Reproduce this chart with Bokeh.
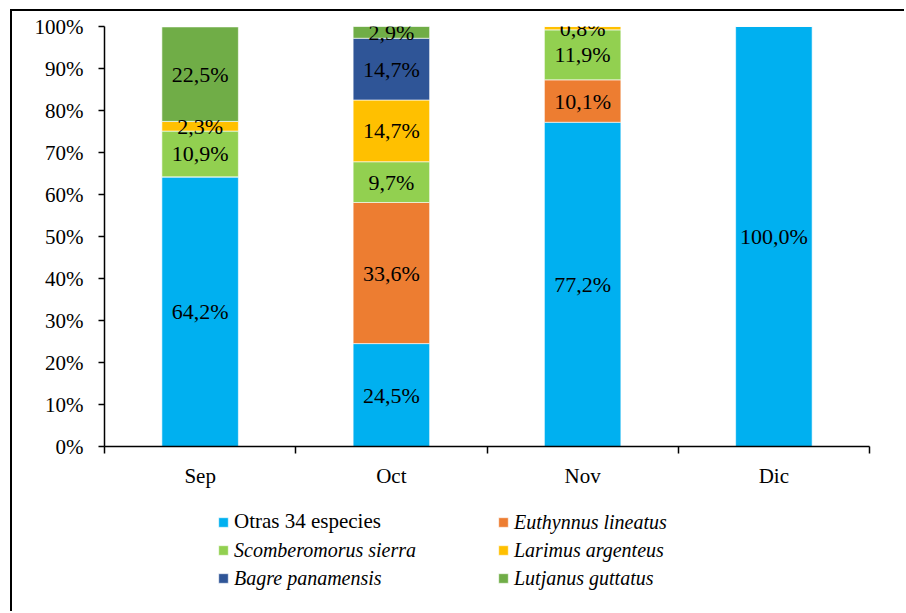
from bokeh.plotting import figure
from bokeh.layouts import column
from bokeh.models import (ColumnDataSource, FixedTicker, LinearAxis, PrintfTickFormatter,
                          LabelSet, Legend, LegendItem, Range1d)
from bokeh.embed import file_html
from bokeh.resources import INLINE

months = ["Sep", "Oct", "Nov", "Dic"]
series = ["Otras 34 especies", "Euthynnus lineatus", "Scomberomorus sierra",
          "Larimus argenteus", "Bagre panamensis", "Lutjanus guttatus"]
otras = [64.2, 24.5, 77.2, 100.0]
euthynnus = [0.0, 33.6, 10.1, 0.0]
scomberomorus = [10.9, 9.7, 11.9, 0.0]
larimus = [2.3, 14.7, 0.8, 0.0]
bagre = [0.0, 14.7, 0.0, 0.0]
lutjanus = [22.5, 2.9, 0.0, 0.0]
y_ticks = list(range(0, 101, 10))

colors = ["#00B0F0", "#ED7D31", "#92D050", "#FFC000", "#2F5597", "#70AD47"]
values = [otras, euthynnus, scomberomorus, larimus, bagre, lutjanus]
keys = ["s%d" % i for i in range(len(series))]

FONT = "Liberation Serif"

x = [i + 0.5 for i in range(len(months))]
data = {"x": x}
for k, v in zip(keys, values):
    data[k] = v
source = ColumnDataSource(data)

p = figure(width=892, height=490, x_range=Range1d(0, len(months)), y_range=Range1d(0, 100),
           output_backend="svg", toolbar_location=None, x_axis_type=None, y_axis_type=None,
           min_border_left=92, min_border_right=35, min_border_top=15, min_border_bottom=55)
p.outline_line_color = None

renderers = p.vbar_stack(keys, x="x", width=0.4, color=colors, source=source,
                         line_color="white", line_width=0.6)

# y axis
yax = LinearAxis(ticker=FixedTicker(ticks=y_ticks), formatter=PrintfTickFormatter(format="%d%%"))
yax.axis_line_width = 1.5
yax.axis_line_color = "black"
yax.major_tick_out = 6
yax.major_tick_in = 0
yax.major_tick_line_width = 1.5
yax.minor_tick_line_color = None
yax.major_label_standoff = 15
yax.major_label_text_font = FONT
yax.major_label_text_font_size = "21px"
yax.major_label_text_color = "black"
p.add_layout(yax, "left")

# x axis: labels at centres, ticks at category boundaries
xax = LinearAxis(ticker=FixedTicker(ticks=x, minor_ticks=list(range(len(months) + 1))))
xax.major_label_overrides = {xi: m for xi, m in zip(x, months)}
xax.axis_line_width = 1.5
xax.axis_line_color = "black"
xax.major_tick_line_color = None
xax.major_tick_out = 6
xax.major_tick_in = 0
xax.minor_tick_out = 7
xax.minor_tick_in = 0
xax.minor_tick_line_color = "black"
xax.minor_tick_line_width = 1.5
xax.major_label_standoff = 10
xax.major_label_text_font = FONT
xax.major_label_text_font_size = "21px"
xax.major_label_text_color = "black"
p.add_layout(xax, "below")

# segment labels
lx, ly, lt = [], [], []
for i in range(len(months)):
    cum = 0.0
    for v in values:
        val = v[i]
        if val > 0:
            lx.append(x[i])
            ly.append(cum + val / 2)
            lt.append(("%.1f%%" % val).replace(".", ","))
        cum += val
lab_src = ColumnDataSource({"x": lx, "y": ly, "t": lt})
labels = LabelSet(x="x", y="y", text="t", source=lab_src, text_align="center",
                  text_baseline="middle", text_font=FONT, text_font_size="22px",
                  text_color="black")
p.add_layout(labels)

# legend panel (swatch renderers sit below the visible range; only their legend glyphs show)
p2 = figure(width=892, height=110, x_range=Range1d(0, 1), y_range=Range1d(0, 1),
            output_backend="svg", toolbar_location=None, x_axis_type=None, y_axis_type=None,
            min_border_left=92, min_border_right=35, min_border_top=0, min_border_bottom=0)
p2.outline_line_color = None
p2.background_fill_color = None
p2.border_fill_color = None
swatches = [p2.vbar(x=[0.5], top=[-5], bottom=[-6], width=0.1, fill_color=c,
                    line_color="white", line_width=0.6) for c in colors]

def make_legend(idx, loc, style, size):
    lg = Legend(items=[LegendItem(label=series[i], renderers=[swatches[i]]) for i in idx],
                location=loc)
    lg.label_text_font = FONT
    lg.label_text_font_size = size
    lg.label_text_font_style = style
    lg.label_text_color = "black"
    lg.glyph_width = 12
    lg.glyph_height = 12
    lg.label_height = 24
    lg.label_standoff = 5
    lg.spacing = 4
    lg.padding = 0
    lg.margin = 0
    lg.border_line_color = None
    lg.background_fill_alpha = 0
    return lg

p2.add_layout(make_legend([0], (113, 77), "normal", "21px"))
p2.add_layout(make_legend([2, 4], (113, 21), "italic", "20px"))
p2.add_layout(make_legend([1, 3, 5], (393, 21), "italic", "20px"))

layout = column(p, p2, spacing=0,
                styles={"margin-left": "10px", "margin-top": "9px",
                        "border-left": "2px solid black", "border-top": "2px solid black"})

open("out.html", "w").write(file_html(layout, INLINE))
